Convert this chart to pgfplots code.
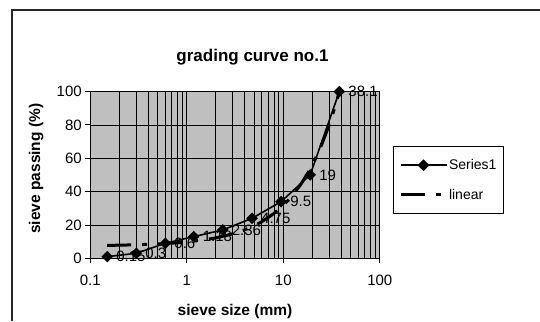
\documentclass[border=0pt]{standalone}
\usepackage{pgfplots}
\pgfplotsset{compat=1.18}
\usepackage{fontspec}
\setmainfont{Liberation Sans}
\begin{document}
\begin{tikzpicture}
\useasboundingbox (0,0) rectangle (540pt,-321pt);
\draw[line width=1.2pt, black!85] (12pt,-321pt) -- (12pt,-10pt) -- (540pt,-10pt);
\node[anchor=base, font=\bfseries\fontsize{17}{20}\selectfont] at (252.5pt,-62pt) {grading curve no.1};
\node[anchor=base, font=\bfseries\fontsize{15.5}{18}\selectfont] at (235pt,-315pt) {sieve size (mm)};
\node[anchor=base, rotate=90, font=\bfseries\fontsize{15.5}{18}\selectfont] at (40pt,-168.7pt) {sieve passing (\%)};
\begin{axis}[
  at={(90.2pt,-258.3pt)}, anchor=south west,
  scale only axis, width=289.6pt, height=166.7pt,
  xmode=log, log basis x=10,
  xmin=0.1, xmax=100, ymin=0, ymax=100,
  xtick={0.1,1,10,100}, xticklabels={0.1,1,10,100},
  minor xtick={0.2,0.3,0.4,0.5,0.6,0.7,0.8,0.9,2,3,4,5,6,7,8,9,20,30,40,50,60,70,80,90},
  ytick={0,20,40,60,80,100}, yticklabels={0,20,40,60,80,100},
  grid=both,
  major grid style={black, line width=0.8pt},
  minor grid style={black, line width=0.8pt},
  axis background/.style={fill=black!25},
  axis line style={black, line width=0.9pt},
  tick align=outside, major tick length=5pt, minor tick length=0pt,
  tick style={black, line width=0.9pt},
  xtick pos=bottom, ytick pos=left,
  tick label style={font=\fontsize{15}{17}\selectfont},
  xticklabel style={yshift=-8pt},
  legend style={at={(1.0442,0.6737)}, anchor=north west, draw=black, line width=0.8pt, fill=white,
    font=\fontsize{14}{16}\selectfont, row sep=16pt, inner xsep=6pt, inner ysep=12pt,
    nodes={inner sep=1pt}},
  legend cell align=left,
  legend image code/.code={%
    \draw[mark repeat=2,mark phase=2,#1] plot coordinates {(0pt,0pt) (23pt,0pt) (46pt,0pt)};},
]
\addplot[black, line width=1.6pt, mark=square*, mark size=3.3pt, mark options={rotate=45, solid},
  nodes near coords, point meta=explicit symbolic,
  nodes near coords style={anchor=west, xshift=5pt, font=\fontsize{15}{17}\selectfont, text=black}]
  table[meta=label] {
x y label
0.15 1 0.15
0.3 3 0.3
0.6 9 0.6
1.18 13 1.18
2.36 17 2.36
4.75 24 4.75
9.5 34 9.5
19 50 19
38.1 100 38.1
};
\addlegendentry{Series1}
\addplot[black, line width=3pt, dash pattern=on 24pt off 11pt on 5pt off 11pt] table {
x y
0.15 7.75
0.2 7.87
0.3 8.11
0.5 8.60
0.75 9.20
1 9.81
1.5 11.03
2 12.24
3 14.67
4 17.10
5 19.54
6 21.97
8 26.83
10 31.69
12 36.55
15 43.85
18 51.14
21 58.43
25 68.16
30 80.31
34 90.03
38.1 100.0
};
\addlegendentry{linear}
\end{axis}
\end{tikzpicture}
\end{document}
